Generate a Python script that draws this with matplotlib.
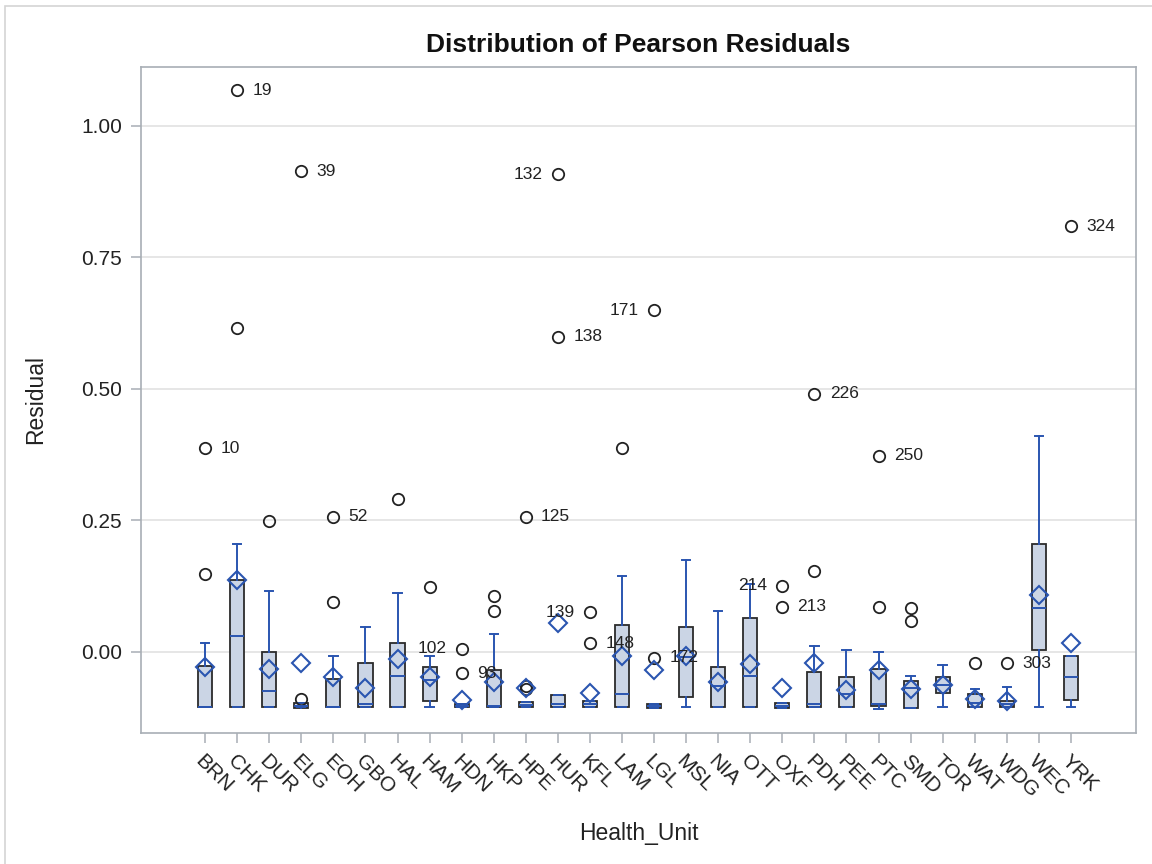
import matplotlib
matplotlib.use("Agg")
import matplotlib.pyplot as plt
from matplotlib.patches import Rectangle

plt.rcParams['font.family'] = ['Liberation Sans', 'DejaVu Sans']

# Box statistics
units = ['BRN', 'CHK', 'DUR', 'ELG', 'EOH', 'GBO', 'HAL', 'HAM', 'HDN', 'HKP',
         'HPE', 'HUR', 'KFL', 'LAM', 'LGL', 'MSL', 'NIA', 'OTT', 'OXF', 'PDH',
         'PEE', 'PTC', 'SMD', 'TOR', 'WAT', 'WDG', 'WEC', 'YRK']
whis_lo = [-0.106, -0.106, -0.106, -0.106, -0.106, -0.106, -0.106, -0.106, -0.106, -0.106,
           -0.106, -0.106, -0.106, -0.106, -0.108, -0.106, -0.106, -0.106, -0.108, -0.106,
           -0.106, -0.110, -0.108, -0.106, -0.106, -0.106, -0.106, -0.106]
q1 = [-0.106, -0.106, -0.106, -0.108, -0.106, -0.106, -0.106, -0.094, -0.106, -0.106,
      -0.106, -0.106, -0.106, -0.106, -0.108, -0.087, -0.106, -0.106, -0.108, -0.106,
      -0.106, -0.104, -0.108, -0.078, -0.106, -0.106, 0.002, -0.092]
median = [-0.105, 0.029, -0.076, -0.103, -0.105, -0.099, -0.046, -0.055, -0.103, -0.104,
          -0.101, -0.099, -0.100, -0.081, -0.104, -0.010, -0.065, -0.046, -0.103, -0.099,
          -0.080, -0.099, -0.070, -0.063, -0.098, -0.100, 0.083, -0.049]
q3 = [-0.027, 0.137, -0.001, -0.098, -0.052, -0.022, 0.016, -0.029, -0.099, -0.035,
      -0.096, -0.083, -0.094, 0.051, -0.100, 0.046, -0.030, 0.064, -0.098, -0.039,
      -0.049, -0.033, -0.057, -0.049, -0.081, -0.095, 0.204, -0.009]
whis_hi = [0.016, 0.204, 0.115, -0.098, -0.009, 0.046, 0.112, -0.008, -0.099, 0.034,
           -0.096, -0.083, -0.094, 0.143, -0.100, 0.174, 0.077, 0.129, -0.098, 0.011,
           0.002, -0.001, -0.046, -0.025, -0.071, -0.067, 0.410, -0.009]
means = [-0.029, 0.136, -0.033, -0.022, -0.049, -0.070, -0.014, -0.049, -0.092, -0.058,
         -0.070, 0.054, -0.078, -0.008, -0.036, -0.008, -0.058, -0.024, -0.069, -0.022,
         -0.073, -0.035, -0.071, -0.063, -0.090, -0.095, 0.108, 0.017]

# Outliers: (unit, value, label, side)
outliers = [
    ('BRN', 0.147, '', 'right'), ('BRN', 0.387, '10', 'right'),
    ('CHK', 0.616, '', 'right'), ('CHK', 1.068, '19', 'right'),
    ('DUR', 0.248, '', 'right'),
    ('ELG', -0.091, '', 'right'), ('ELG', 0.914, '39', 'right'),
    ('EOH', 0.094, '', 'right'), ('EOH', 0.256, '52', 'right'),
    ('HAL', 0.290, '', 'right'),
    ('HAM', 0.123, '', 'right'),
    ('HDN', 0.005, '102', 'left'), ('HDN', -0.041, '93', 'right'),
    ('HKP', 0.106, '', 'right'), ('HKP', 0.078, '', 'right'),
    ('HPE', -0.066, '', 'right'), ('HPE', -0.072, '', 'right'), ('HPE', 0.256, '125', 'right'),
    ('HUR', 0.908, '132', 'left'), ('HUR', 0.599, '138', 'right'),
    ('KFL', 0.075, '139', 'left'), ('KFL', 0.016, '148', 'right'),
    ('LAM', 0.387, '', 'right'),
    ('LGL', -0.012, '172', 'right'), ('LGL', 0.649, '171', 'left'),
    ('OXF', 0.125, '214', 'left'), ('OXF', 0.085, '213', 'right'),
    ('PDH', 0.153, '', 'right'), ('PDH', 0.490, '226', 'right'),
    ('PTC', 0.085, '', 'right'), ('PTC', 0.372, '250', 'right'),
    ('SMD', 0.083, '', 'right'), ('SMD', 0.058, '', 'right'),
    ('WAT', -0.022, '', 'right'),
    ('WDG', -0.022, '303', 'right'),
    ('YRK', 0.809, '324', 'right'),
]

blue = '#2a55b0'
stats = []
for i, u in enumerate(units):
    stats.append({
        'label': u, 'whislo': whis_lo[i], 'q1': q1[i], 'med': median[i],
        'q3': q3[i], 'whishi': whis_hi[i], 'mean': means[i],
        'fliers': [v for (n, v, _, _) in outliers if n == u],
    })

fig = plt.figure(figsize=(11.52, 8.64), dpi=100)
ax = fig.add_axes([141 / 1152, 1 - 733 / 864, 995 / 1152, 666 / 864])

# light frame around the whole graph
fig.patches.append(Rectangle((5 / 1152, -0.1), 1.2, 1 - 6 / 864 + 0.1,
                             transform=fig.transFigure, fill=False,
                             edgecolor='#d4d4d4', linewidth=1.2))

pos = list(range(len(units)))
ax.bxp(stats, positions=pos, widths=0.44, capwidths=0.26, patch_artist=True,
       showmeans=True, showfliers=True,
       boxprops=dict(facecolor='#cbd5e5', edgecolor='#2b2b2b', linewidth=1.3),
       whiskerprops=dict(color=blue, linewidth=1.4),
       capprops=dict(color=blue, linewidth=1.4),
       medianprops=dict(color=blue, linewidth=1.4),
       meanprops=dict(marker='D', markerfacecolor='none', markeredgecolor=blue,
                      markeredgewidth=1.5, markersize=9.5),
       flierprops=dict(marker='o', markerfacecolor='none', markeredgecolor='#222222',
                       markeredgewidth=1.3, markersize=8.2))

for n, v, lab, side in outliers:
    if not lab:
        continue
    x = units.index(n)
    dx = 11 if side == 'right' else -11
    ax.annotate(lab, (x, v), xytext=(dx, 0), textcoords='offset points',
                ha='left' if side == 'right' else 'right', va='center',
                fontsize=12.5, color='#222222')

ax.set_xlim(-2.0, 29.03)
ax.set_ylim(-0.155, 1.112)
ax.set_yticks([0.0, 0.25, 0.5, 0.75, 1.0])
ax.set_yticklabels(['0.00', '0.25', '0.50', '0.75', '1.00'])
ax.yaxis.grid(True, color='#e4e4e4', linewidth=1.3)
ax.set_axisbelow(True)

ax.set_xticks(pos)
ax.set_xticklabels(units, rotation=-45, ha='left', va='top', rotation_mode='anchor')

for s in ax.spines.values():
    s.set_color('#a8aeb5')
    s.set_linewidth(1.2)
ax.tick_params(axis='both', colors='#a8aeb5', length=7, width=1.1, labelcolor='#222222',
               labelsize=15)
ax.tick_params(axis='y', pad=6.5)
ax.tick_params(axis='x', pad=6)

ax.set_title('Distribution of Pearson Residuals', fontsize=19, fontweight='bold', pad=11,
             color='#111111')
ax.set_ylabel('Residual', fontsize=16.5, color='#222222')
ax.set_xlabel('Health_Unit', fontsize=16.5, color='#222222')
ax.yaxis.set_label_coords(-0.094, 0.5)
ax.xaxis.set_label_coords(0.5, -0.133)

fig.savefig('out.png', dpi=100)
